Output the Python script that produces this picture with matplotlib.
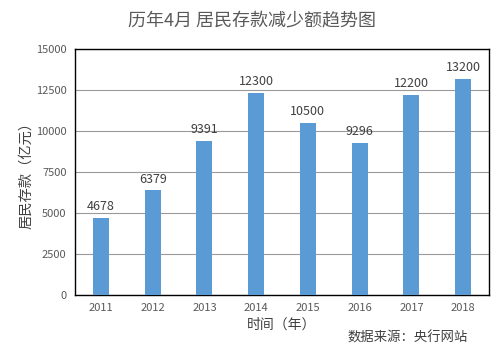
import matplotlib
matplotlib.use("Agg")
import matplotlib.pyplot as plt

plt.rcParams['font.family'] = ['Noto Sans CJK SC', 'DejaVu Sans']

years = ['2011', '2012', '2013', '2014', '2015', '2016', '2017', '2018']
values = [4678, 6379, 9391, 12300, 10500, 9296, 12200, 13200]
yticks = [0, 2500, 5000, 7500, 10000, 12500, 15000]

fig = plt.figure(figsize=(5, 3.53), dpi=100)
ax = fig.add_axes([0.15, 0.164, 0.828, 0.697])
x = range(len(years))
ax.bar(x, values, width=0.31, color='#5B9BD5', zorder=3)
for xi, v in zip(x, values):
    ax.text(xi, v + 300, str(v), ha='center', va='bottom', fontsize=9, color='#404040')
ax.set_xlim(-0.5, len(years) - 0.5)
ax.set_ylim(0, 15000)
ax.set_yticks(yticks)
ax.set_yticklabels([str(t) for t in yticks], fontsize=8, color='#595959')
ax.set_xticks(list(x))
ax.set_xticklabels(years, fontsize=8, color='#595959')
ax.tick_params(length=0, pad=6)
ax.grid(axis='y', color='#9a9a9a', linewidth=0.8, zorder=0)
for s in ax.spines.values():
    s.set_color('black')
    s.set_linewidth(1.0)
ax.set_ylabel('居民存款（亿元）', fontsize=10.3, color='#404040', labelpad=2)
ax.set_xlabel('时间（年）', fontsize=10, color='#404040', labelpad=3)
fig.text(0.504, 0.943, '历年4月 居民存款减少额趋势图', ha='center', va='center', fontsize=13, color='#595959')
fig.text(0.815, 0.043, '数据来源：央行网站', ha='center', va='center', fontsize=9.6, color='#404040')
fig.savefig('out.png', dpi=100)
